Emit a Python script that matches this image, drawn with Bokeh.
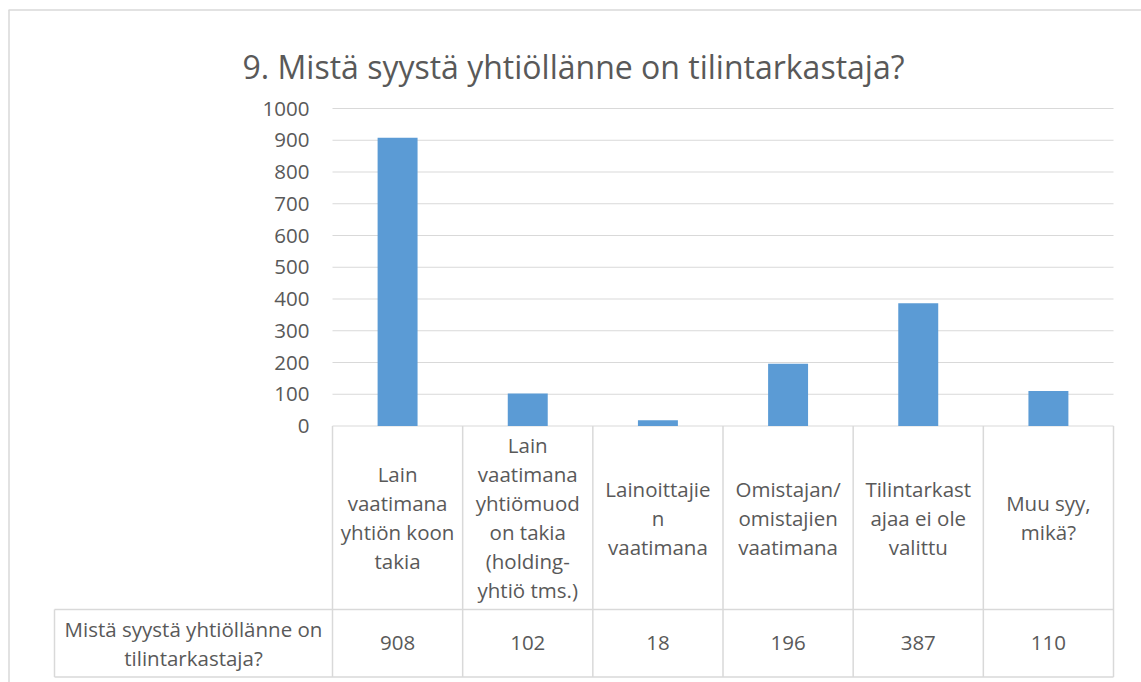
from bokeh.plotting import figure
from bokeh.models import Range1d
from bokeh.core.properties import value
from bokeh.embed import file_html
from bokeh.resources import INLINE

# ---------------- data ----------------
title_text = "9. Mistä syystä yhtiöllänne on tilintarkastaja?"
categories = [
    "Lain\nvaatimana\nyhtiön koon\ntakia",
    "Lain\nvaatimana\nyhtiömuod\non takia\n(holding-\nyhtiö tms.)",
    "Lainoittajie\nn\nvaatimana",
    "Omistajan/\nomistajien\nvaatimana",
    "Tilintarkast\najaa ei ole\nvalittu",
    "Muu syy,\nmikä?",
]
values = [908, 102, 18, 196, 387, 110]
series_label = "Mistä syystä yhtiöllänne on\ntilintarkastaja?"
y_ticks = [0, 100, 200, 300, 400, 500, 600, 700, 800, 900, 1000]

# ---------------- layout (picture pixels) ----------------
W, H = 1141, 682
OX, OY = 0, 0
PLOT_L, PLOT_R = 332.0, 1113.0
CAT_W = (PLOT_R - PLOT_L) / len(categories)
Y_ZERO, Y_TOP = 425.5, 108.0
PX_PER_UNIT = (Y_ZERO - Y_TOP) / 1000.0
TABLE_L = 54.0
HDR_BOTTOM = 609.0
TABLE_BOTTOM = 676.5
LINE_H = 29.0

TXT = "#595959"
GRID = "#d9d9d9"
BAR = "#5b9bd5"
FONT = value("Open Sans")
FS = "20.5px"


def px_to_x(px):
    return (px - PLOT_L) / CAT_W - 0.5


def py_to_v(py):
    return (Y_ZERO - py) / PX_PER_UNIT


p = figure(
    width=W, height=H,
    x_range=Range1d(px_to_x(OX), px_to_x(OX + W)),
    y_range=Range1d(py_to_v(OY + H), py_to_v(OY)),
    output_backend="svg", toolbar_location=None,
    x_axis_location=None, y_axis_location=None,
    min_border=0,
)
p.grid.visible = False
p.outline_line_color = None
p.background_fill_color = "white"
p.border_fill_color = "white"
p.extra_x_ranges = {"px": Range1d(OX, OX + W)}
p.extra_y_ranges = {"py": Range1d(OY + H, OY)}

n = len(categories)
idx = list(range(n))

# chart frame (top and left edges)
p.segment(x0=[8], x1=[OX + W], y0=[9.5], y1=[9.5], line_color=GRID, line_width=1.5,
          x_range_name="px", y_range_name="py")
p.segment(x0=[8.5], x1=[8.5], y0=[9.5], y1=[OY + H], line_color=GRID, line_width=1.5,
          x_range_name="px", y_range_name="py")

# gridlines
p.segment(x0=[-0.5] * len(y_ticks), x1=[n - 0.5] * len(y_ticks), y0=y_ticks, y1=y_ticks,
          line_color=GRID, line_width=1.2)

# bars
p.vbar(x=idx, top=values, bottom=0, width=0.307, fill_color=BAR, line_color=None)

# y tick labels
p.text(x=[309] * len(y_ticks), y=y_ticks, text=[str(t) for t in y_ticks],
       x_range_name="px", text_align="right", text_baseline="middle",
       text_color=TXT, text_font=FONT, text_font_size=FS)

# data table lines
bounds = [i - 0.5 for i in range(n + 1)]
p.segment(x0=bounds, x1=bounds, y0=[Y_ZERO] * len(bounds), y1=[TABLE_BOTTOM] * len(bounds),
          y_range_name="py", line_color=GRID, line_width=1.5)
p.segment(x0=[TABLE_L, TABLE_L], x1=[PLOT_R, PLOT_R], y0=[HDR_BOTTOM, TABLE_BOTTOM],
          y1=[HDR_BOTTOM, TABLE_BOTTOM], x_range_name="px", y_range_name="py",
          line_color=GRID, line_width=1.5)
p.segment(x0=[TABLE_L], x1=[TABLE_L], y0=[HDR_BOTTOM], y1=[TABLE_BOTTOM],
          x_range_name="px", y_range_name="py", line_color=GRID, line_width=1.5)

# category labels (header row)
hdr_mid = (Y_ZERO + HDR_BOTTOM) / 2.0
lx, ly, lt = [], [], []
for i, c in enumerate(categories):
    lines = c.split("\n")
    for j, ln in enumerate(lines):
        lx.append(i)
        ly.append(hdr_mid + (j - (len(lines) - 1) / 2.0) * LINE_H)
        lt.append(ln)
p.text(x=lx, y=ly, text=lt, y_range_name="py", text_align="center",
       text_baseline="middle", text_color=TXT, text_font=FONT, text_font_size=FS)

# values row
row_mid = (HDR_BOTTOM + TABLE_BOTTOM) / 2.0
p.text(x=idx, y=[row_mid] * n, text=[str(v) for v in values], y_range_name="py",
       text_align="center", text_baseline="middle", text_color=TXT,
       text_font=FONT, text_font_size=FS)

# series label in the table
sl = series_label.split("\n")
p.text(x=[(TABLE_L + PLOT_L) / 2.0] * len(sl),
       y=[row_mid + (j - (len(sl) - 1) / 2.0) * LINE_H for j in range(len(sl))],
       text=sl, x_range_name="px", y_range_name="py", text_align="center",
       text_baseline="middle", text_color=TXT, text_font=FONT, text_font_size=FS)

# title
p.text(x=[573], y=[66], text=[title_text], x_range_name="px", y_range_name="py",
       text_align="center", text_baseline="alphabetic", text_color=TXT,
       text_font=FONT, text_font_size="32px")

open("out.html", "w").write(file_html(p, INLINE))
